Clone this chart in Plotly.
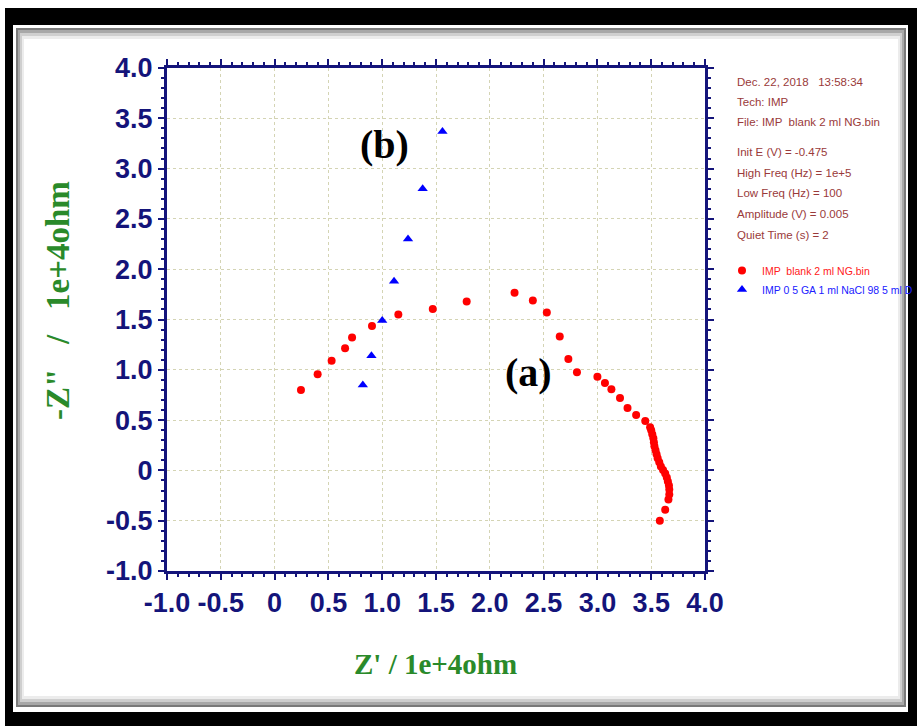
import plotly.graph_objects as go

# ---------------- data ----------------
blank_x = [0.245, 0.40, 0.53, 0.655, 0.72, 0.905, 1.15, 1.47, 1.785, 2.23, 2.40, 2.53,
           2.65, 2.73, 2.81, 3.00, 3.07, 3.13, 3.21, 3.28, 3.36, 3.445, 3.49, 3.50,
           3.51, 3.52, 3.525, 3.53, 3.54, 3.55, 3.56, 3.575, 3.59, 3.61, 3.63, 3.645,
           3.655, 3.665, 3.668, 3.668, 3.66, 3.63, 3.58]
blank_y = [0.80, 0.955, 1.09, 1.215, 1.32, 1.435, 1.55, 1.605, 1.68, 1.767, 1.69, 1.57,
           1.33, 1.107, 0.975, 0.93, 0.87, 0.806, 0.72, 0.62, 0.55, 0.49, 0.43, 0.40,
           0.36, 0.32, 0.28, 0.24, 0.20, 0.16, 0.12, 0.08, 0.04, 0.005, -0.03, -0.07,
           -0.11, -0.15, -0.19, -0.24, -0.29, -0.39, -0.50]

ga_x = [0.82, 0.90, 1.0, 1.11, 1.24, 1.376, 1.56]
ga_y = [0.85, 1.14, 1.49, 1.88, 2.30, 2.80, 3.37]

tick_vals = [-1.0, -0.5, 0, 0.5, 1.0, 1.5, 2.0, 2.5, 3.0, 3.5, 4.0]
tick_text = ["-1.0", "-0.5", "0", "0.5", "1.0", "1.5", "2.0", "2.5", "3.0", "3.5", "4.0"]

series_names = ["IMP  blank 2 ml NG.bin", "IMP 0 5 GA 1 ml NaCl 98 5 ml D"]
info_lines = ["Dec. 22, 2018   13:58:34", "Tech: IMP", "File: IMP  blank 2 ml NG.bin",
              "Init E (V) = -0.475", "High Freq (Hz) = 1e+5", "Low Freq (Hz) = 100",
              "Amplitude (V) = 0.005", "Quiet Time (s) = 2"]
x_title = "Z' / 1e+4ohm"
y_title = "-Z\"   /   1e+4ohm"
labels = ["(a)", "(b)"]

# ---------------- layout geometry ----------------
W, H = 917, 726
L, R, T, B = 167, 705, 68, 571
PW, PH = R - L, B - T


def px(xp):
    return (xp - L) / PW


def py(yp):
    return (B - yp) / PH


NAVY = "#14147a"
GREEN = "#2a8a2a"
INFO = "#9a3a3a"
SANS = "Liberation Sans, Arial, sans-serif"
SERIF = "Liberation Serif, Times New Roman, serif"

fig = go.Figure()
fig.add_trace(go.Scatter(
    x=blank_x, y=blank_y, mode="markers",
    name="<span style='color:#ff2020'>" + series_names[0] + "</span>",
    marker=dict(symbol="circle", size=8, color="#ff0000")))
fig.add_trace(go.Scatter(
    x=ga_x, y=ga_y, mode="markers",
    name="<span style='color:#2020ff'>" + series_names[1] + "</span>",
    marker=dict(symbol="triangle-up", size=9, color="#0000ff")))

axis_common = dict(
    range=[-1.0, 4.0], tickmode="array", tickvals=tick_vals, ticktext=tick_text,
    tickangle=0,
    showline=True, linewidth=3, linecolor=NAVY, mirror="ticks",
    ticks="outside", ticklen=6, tickwidth=2, tickcolor=NAVY,
    tickfont=dict(family=SANS, size=27, color=NAVY, weight="bold"),
    showgrid=True, gridcolor="#d4d4b4", gridwidth=1, griddash="dot",
    zeroline=False,
    minor=dict(dtick=0.1, tick0=-1.0, ticks="outside", ticklen=3, tickwidth=1.5,
               tickcolor=NAVY, showgrid=False),
    fixedrange=True,
)

shapes = []


def rect(x0, y0, x1, y1, fill, layer="below"):
    shapes.append(dict(type="rect", xref="paper", yref="paper",
                       x0=px(x0), x1=px(x1), y0=py(y1), y1=py(y0),
                       fillcolor=fill, line=dict(width=0), layer=layer))


# picture frame
rect(5, 8, 917, 726, "#000000")
rect(13, 25, 908, 712, "#ffffff")
rect(16, 28, 906, 707, "#7a7a7a")
rect(18, 30, 904, 705, "#a8a8a8")
rect(20, 33, 902, 702, "#cfcfcf")
rect(22, 36, 900, 699, "#ececec")
rect(24, 39, 898, 696, "#ffffff")

annotations = []
# axis titles
annotations.append(dict(xref="paper", yref="paper", x=px(435), y=py(664),
                        text=x_title, showarrow=False, xanchor="center", yanchor="middle",
                        font=dict(family=SERIF, size=29, color=GREEN, weight="bold")))
annotations.append(dict(xref="paper", yref="paper", x=px(58), y=py(301),
                        text=y_title, showarrow=False, textangle=-90,
                        xanchor="center", yanchor="middle",
                        font=dict(family=SERIF, size=33, color=GREEN, weight="bold")))
# panel labels
annotations.append(dict(x=2.364, y=0.978, text=labels[0], showarrow=False,
                        font=dict(family=SERIF, size=40, color="#000000", weight="bold")))
annotations.append(dict(x=1.017, y=3.235, text=labels[1], showarrow=False,
                        font=dict(family=SERIF, size=40, color="#000000", weight="bold")))
# info block
info_y = [82, 102, 122, 152, 173, 193, 214, 235]
for line, yy in zip(info_lines, info_y):
    annotations.append(dict(xref="paper", yref="paper", x=px(735), y=py(yy),
                            text=line, showarrow=False, xanchor="left", yanchor="middle",
                            font=dict(family=SANS, size=11.5, color=INFO)))

fig.update_layout(
    width=W, height=H,
    margin=dict(l=L, r=W - R, t=T, b=H - B, pad=0, autoexpand=False),
    paper_bgcolor="#ffffff", plot_bgcolor="#ffffff",
    xaxis=axis_common, yaxis=axis_common,
    showlegend=True,
    legend=dict(x=px(722), y=py(256), xanchor="left", yanchor="top",
                bgcolor="rgba(0,0,0,0)", borderwidth=0,
                font=dict(family=SANS, size=10.5), itemwidth=30,
                tracegroupgap=0),
    shapes=shapes, annotations=annotations,
)

fig.write_html("out.html")
